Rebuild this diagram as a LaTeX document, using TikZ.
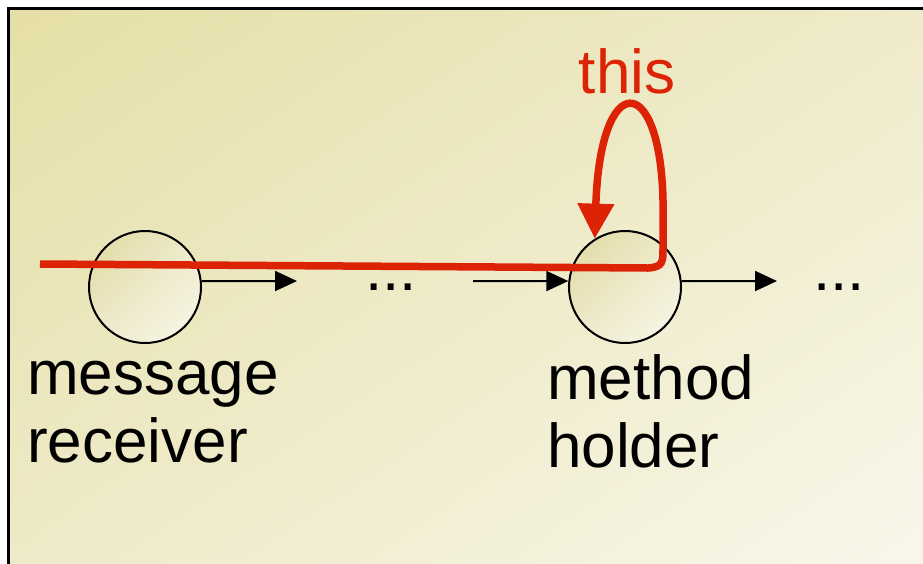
\documentclass[tikz,border=0pt]{standalone}
\usepackage{fontspec}
\setmainfont{Liberation Sans}
\usetikzlibrary{arrows.meta, positioning, shadings}
\definecolor{thisred}{RGB}{220,35,5}
\definecolor{bgtl}{RGB}{229,223,166}
\definecolor{bgtr}{RGB}{239,235,202}
\definecolor{bgbl}{RGB}{238,234,200}
\definecolor{bgbr}{RGB}{249,247,236}
\definecolor{objyel}{RGB}{224,217,158}
\definecolor{objmid}{RGB}{238,234,204}
\definecolor{objlight}{RGB}{249,247,235}
\tikzset{
  object/.style={circle, draw=black, line width=2pt, minimum size=112pt, inner sep=0pt, shade, upper left=objyel, upper right=objmid, lower left=objmid, lower right=objlight},
  lbl/.style={font=\fontsize{62}{68}\selectfont, inner sep=0pt, align=left},
  arrow/.style={-{Triangle[length=22pt, width=20pt]}, line width=2pt, color=black},
  selfline/.style={-{Triangle[length=35pt, width=35pt]}, line width=7.5pt, color=thisred}
}

\begin{document}
\begin{tikzpicture}[x=1pt, y=-1pt]
  \useasboundingbox (0,0) rectangle (923,563);
  \clip (0,0) rectangle (923,563);

  % Background panel
  \shade[upper left=bgtl, upper right=bgtr, lower left=bgbl, lower right=bgbr] (8.5,8.5) rectangle (940,580);
  \draw[line width=3pt] (8.5,580) -- (8.5,8.5) -- (940,8.5);

  % Objects of the chain
  \node[object] (recv) at (145,287) {};
  \node[object] (holder) at (625,287) {};

  % Dots
  \node[lbl, anchor=base west] (dotsa) at (365,290) {...};
  \node[lbl, anchor=base west] (dotsb) at (813,290) {...};

  % Links
  \coordinate (linka) at (297,281);
  \coordinate (linkb) at (473,281);
  \coordinate (linkc) at (777,281);
  \draw[arrow] (recv.6) -- (linka);
  \draw[arrow] (linkb) -- (holder.174);
  \draw[arrow] (holder.6) -- (linkc);

  % Labels (base = last line)
  \node[lbl, anchor=base west] (recvlbl) at (27,462) {message\\receiver};
  \node[lbl, anchor=base west] (holderlbl) at (547,467) {method\\holder};

  % this pointer
  \coordinate (start) at (40,264);
  \draw[selfline] (start) -- (648,268) .. controls (663,267) and (663,262) .. (663,248) -- (663,200) .. controls (660,70) and (600,70) .. (holder.122);
  \node[lbl, text=thisred, anchor=base] (thislbl) at (627,93) {this};
\end{tikzpicture}
\end{document}
